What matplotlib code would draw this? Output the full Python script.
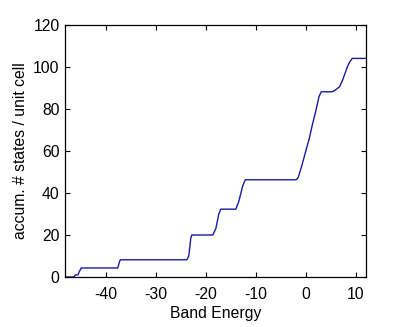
import matplotlib
matplotlib.use("Agg")
import matplotlib.pyplot as plt

# accumulated number of states vs band energy
energia = [-48.0, -46.4, -46.1, -45.6, -45.2, -44.9, -37.6, -37.3, -37.1,
           -23.8, -23.4, -23.0, -22.8, -18.6, -18.0, -17.4, -17.0, -14.0,
           -13.4, -12.6, -12.1, -1.9, -1.5, -0.8, 0.0, 0.7, 1.3, 2.0, 2.65,
           3.1, 5.3, 5.9, 6.75, 7.4, 8.3, 8.8, 9.3, 12.1]
estados = [0.0, 0.0, 1.0, 1.0, 3.0, 4.3, 4.3, 7.0, 8.2,
           8.2, 10.0, 18.5, 20.0, 20.0, 23.0, 30.0, 32.3, 32.3,
           36.0, 43.5, 46.3, 46.3, 47.5, 53.0, 60.0, 66.0, 72.4, 79.0, 86.0,
           88.2, 88.2, 89.0, 90.6, 94.0, 100.0, 102.5, 104.1, 104.1]

xticks = [-40, -30, -20, -10, 0, 10]
yticks = [0, 20, 40, 60, 80, 100, 120]

plt.rcParams['font.family'] = ['Liberation Sans', 'DejaVu Sans']
plt.rcParams['axes.unicode_minus'] = False
fig = plt.figure(figsize=(4.04, 3.27), dpi=100)
ax = fig.add_axes([65.3/404, 50/327, 301/404, 252/327])

ax.plot(energia, estados, color='#1a1aa0', linewidth=1.0)

ax.set_xlim(-48.1, 12.1)
ax.set_ylim(0, 120)
ax.set_xticks(xticks)
ax.set_yticks(yticks)
ax.tick_params(direction='in', length=3.5, width=0.8, top=True, right=True,
               labelsize=11.3)
ax.tick_params(axis='x', pad=7)
ax.tick_params(axis='y', pad=4)
for s in ax.spines.values():
    s.set_linewidth(0.9)
ax.set_xlabel("Band Energy", fontsize=11.3, labelpad=3)
ax.set_ylabel("accum. # states / unit cell", fontsize=11.3, labelpad=4)

fig.savefig("out.png", dpi=100)
